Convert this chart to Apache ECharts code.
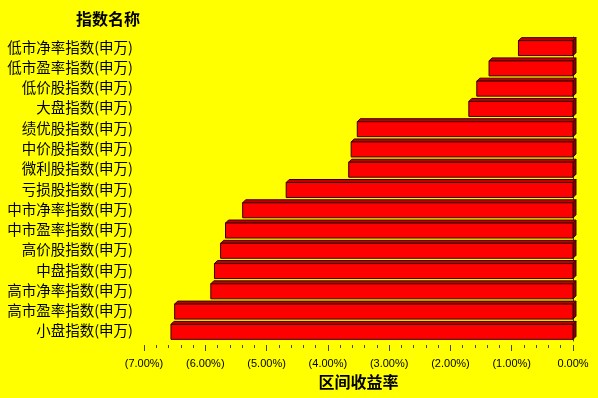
<!DOCTYPE html>
<html>
<head>
<meta charset="utf-8">
<script src="https://cdn.jsdelivr.net/npm/echarts@6/dist/echarts.min.js"></script>
<style>
html,body{margin:0;padding:0;background:#ffff00;}
#chart{width:598px;height:398px;}
</style>
</head>
<body>
<div id="chart"></div>
<script>
var categories = [
    '低市净率指数(申万)','低市盈率指数(申万)','低价股指数(申万)','大盘指数(申万)',
    '绩优股指数(申万)','中价股指数(申万)','微利股指数(申万)','亏损股指数(申万)',
    '中市净率指数(申万)','中市盈率指数(申万)','高价股指数(申万)','中盘指数(申万)',
    '高市净率指数(申万)','高市盈率指数(申万)','小盘指数(申万)'
];
var returns = [
    -0.89,-1.37,-1.57,-1.70,
    -3.52,-3.62,-3.66,-4.68,
    -5.39,-5.67,-5.75,-5.85,
    -5.91,-6.50,-6.56
];//---区间收益率(%)
var tickMin = -7, tickMax = 0, tickStep = 1;

var myChart = echarts.init(document.getElementById('chart'));

// 画带立体效果的横条
function renderBar(params, api){
    var cat = api.value(1);
    var p0 = api.coord([0, cat]);
    var p1 = api.coord([api.value(0), cat]);
    var c = p0[1], xl = p1[0], xr = p0[0], d = 3;
    var top = c - 6.5, bot = c + 8.5;
    var line = {stroke:'#3a0000', lineWidth:1};
    return {
        type:'group',
        children:[
            {type:'polygon', shape:{points:[[xl,top],[xl+d,top-d],[xr+d,top-d],[xr,top]]},
             style:Object.assign({fill:'#c00000'}, line)},
            {type:'polygon', shape:{points:[[xr,top],[xr+d,top-d],[xr+d,bot-d],[xr,bot]]},
             style:Object.assign({fill:'#8a0000'}, line)},
            {type:'rect', shape:{x:xl, y:top, width:xr-xl, height:bot-top},
             style:Object.assign({fill:'#ff0000'}, line)}
        ]
    };
}

var option = {
    backgroundColor:'#ffff00',
    animation:false,
    title:{
        text:'指数名称',
        left:71,
        top:6,
        textStyle:{fontFamily:'Noto Sans CJK SC', fontSize:16, fontWeight:'bold', color:'#000'}
    },
    grid:{
        left:144,
        right:25,
        top:37,
        bottom:57
    },
    xAxis:{
        type:'value',
        min:tickMin,
        max:tickMax,
        interval:tickStep,
        offset:4,
        name:'区间收益率',
        nameLocation:'middle',
        nameGap:29,
        nameTextStyle:{fontFamily:'Noto Sans CJK SC', fontSize:16, fontWeight:'bold', color:'#000'},
        axisLine:{lineStyle:{color:'#444', width:1}},
        axisTick:{show:true, length:6, lineStyle:{color:'#444'}},
        minorTick:{show:true, splitNumber:5, length:3, lineStyle:{color:'#444'}},
        splitLine:{show:false},
        axisLabel:{
            margin:13,
            fontFamily:'Liberation Sans',
            fontSize:11,
            color:'#000',
            formatter:function(v){
                return v < 0 ? '(' + (-v).toFixed(2) + '%)' : v.toFixed(2) + '%';
            }
        }
    },
    yAxis:{
        type:'category',
        inverse:true,
        data:categories,
        offset:7,
        axisLine:{lineStyle:{color:'#444', width:1}},
        axisTick:{show:false},
        axisLabel:{
            margin:4,
            fontFamily:'Noto Sans CJK SC',
            fontSize:14.5,
            color:'#000'
        }
    },
    series:[
        {
            type:'custom',
            renderItem:renderBar,
            encode:{x:0, y:1},
            data:returns.map(function(v, i){ return [v, i]; })
        }
    ]
};

myChart.setOption(option);
</script>
</body>
</html>
